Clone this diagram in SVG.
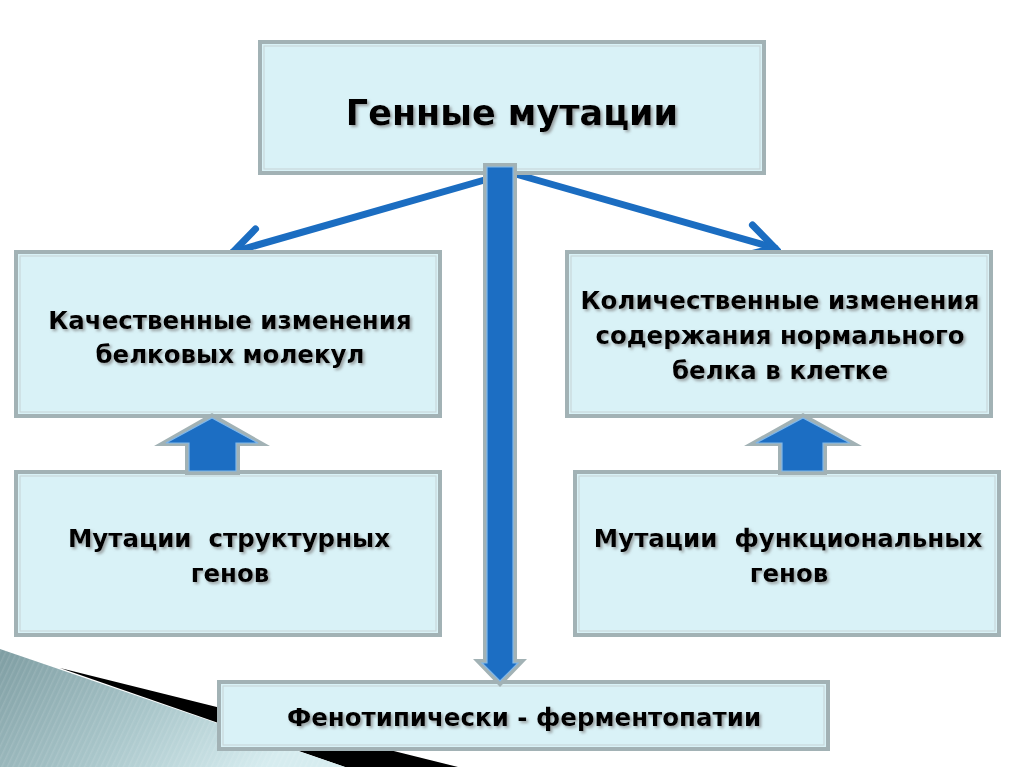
<svg xmlns="http://www.w3.org/2000/svg" width="1024" height="767" viewBox="0 0 1024 767">
<defs>
<style>
.box{fill:#d9f2f7;stroke:#a2b2b5;stroke-width:4}
.inner{fill:none;stroke:#c9d8da;stroke-width:1.2}
.t{font-family:"DejaVu Sans","Liberation Sans",sans-serif;font-weight:bold;fill:#000;text-anchor:middle;white-space:pre;filter:url(#sh)}
.m{font-size:24.5px}
.conn{stroke:#1b6dc1;stroke-width:7;fill:none;stroke-linecap:round}
.bout{fill:#a2b2b5}
.bin{fill:#1c6ec3;stroke:#7fb7ea;stroke-width:1.2}
</style>
<filter id="sh" x="-10%" y="-30%" width="120%" height="160%">
<feDropShadow dx="2" dy="2" stdDeviation="1.4" flood-color="#7a7a7a" flood-opacity="0.7"/>
</filter>
<linearGradient id="gg" x1="0" y1="0" x2="1" y2="0.4">
<stop offset="0" stop-color="#7e9da2"/>
<stop offset="0.55" stop-color="#a9c6ca"/>
<stop offset="1" stop-color="#d6ecef"/>
</linearGradient>
<pattern id="stripes" width="5" height="5" patternUnits="userSpaceOnUse" patternTransform="rotate(25)">
<rect x="0" y="0" width="1.5" height="5" fill="#ffffff" opacity="0.1"/>
</pattern>
<marker id="chev" markerUnits="userSpaceOnUse" viewBox="-34 -20 40 40" refX="0" refY="0" markerWidth="40" markerHeight="40" orient="auto">
<path d="M-28,-16 L0,0 L-28,16" fill="none" stroke="#1b6dc1" stroke-width="7" stroke-linecap="round" stroke-linejoin="miter"/>
</marker>
</defs>
<rect x="0" y="0" width="1024" height="767" fill="#ffffff"/>
<g id="decoration">
<polygon points="60,668 458,767 345,767" fill="#000"/>
<polygon points="0,649 345,767 0,767" fill="url(#gg)"/>
<polygon points="0,649 345,767 0,767" fill="url(#stripes)"/>
</g>
<g id="connectors">
<line class="conn" x1="488" y1="179" x2="233" y2="252" marker-end="url(#chev)"/>
<line class="conn" x1="512" y1="173" x2="775" y2="248" marker-end="url(#chev)"/>
</g>
<g id="n-top">
<rect class="box" x="260" y="42" width="504" height="131"/>
<rect class="inner" x="264" y="46" width="496" height="123"/>
<text class="t" x="512" y="125" font-size="35">Генные мутации</text>
</g>
<g id="n-qual">
<rect class="box" x="16" y="252" width="424" height="164"/>
<rect class="inner" x="20" y="256" width="416" height="156"/>
<text class="t m" x="230" y="329">Качественные изменения</text>
<text class="t m" x="230" y="363">белковых молекул</text>
</g>
<g id="n-quant">
<rect class="box" x="567" y="252" width="424" height="164"/>
<rect class="inner" x="571" y="256" width="416" height="156"/>
<text class="t m" x="780" y="309">Количественные изменения</text>
<text class="t m" x="780" y="344">содержания нормального</text>
<text class="t m" x="780" y="379">белка в клетке</text>
</g>
<g id="n-struct">
<rect class="box" x="16" y="472" width="424" height="163"/>
<rect class="inner" x="20" y="476" width="416" height="155"/>
<text class="t m" x="229" y="547">Мутации  структурных</text>
<text class="t m" x="230" y="582">генов</text>
</g>
<g id="n-func">
<rect class="box" x="575" y="472" width="424" height="163"/>
<rect class="inner" x="579" y="476" width="416" height="155"/>
<text class="t m" x="788" y="547">Мутации  функциональных</text>
<text class="t m" x="789" y="582">генов</text>
</g>
<g id="n-pheno">
<rect class="box" x="219" y="682" width="609" height="67"/>
<rect class="inner" x="223" y="686" width="601" height="59"/>
<text class="t m" x="524" y="726">Фенотипически - ферментопатии</text>
</g>
<g id="block-arrows">
<polygon class="bout" points="212,413 270,446 240,446 240,475 185,475 185,446 154,446"/>
<polygon class="bin" points="212,418 258,443 236,443 236,471 189,471 189,443 166,443"/>
<polygon class="bout" points="803,413 862,446 827,446 827,475 778,475 778,446 744,446"/>
<polygon class="bin" points="803,418 850,443 823,443 823,471 782,471 782,443 756,443"/>
<polygon class="bout" points="483,163 517,163 517,659 527,659 500,687 473,659 483,659"/>
<polygon class="bin" points="487,167 513,167 513,663 518,663 500,681 482,663 487,663"/>
</g>
</svg>
